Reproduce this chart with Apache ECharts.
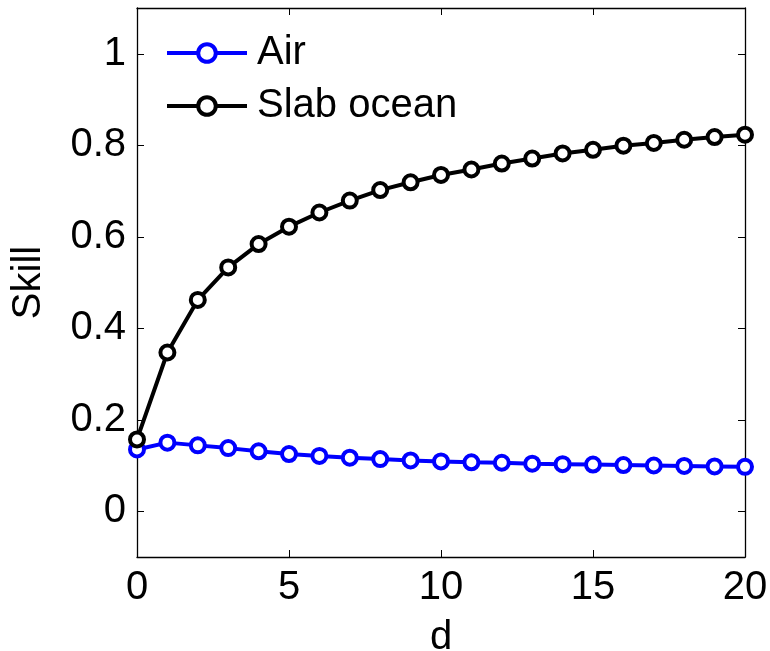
<!DOCTYPE html>
<html><head><meta charset="utf-8">
<script src="https://cdn.jsdelivr.net/npm/echarts@6/dist/echarts.min.js"></script>
<style>html,body{margin:0;padding:0;background:#fff}#c{width:770px;height:651px}</style>
</head><body><div id="c"></div>
<script>
const days = [0,1,2,3,4,5,6,7,8,9,10,11,12,13,14,15,16,17,18,19,20];
const airSkill = [0.135,0.150,0.144,0.138,0.131,0.125,0.121,0.117,0.114,0.111,0.109,0.107,0.106,0.104,0.103,0.102,0.101,0.100,0.099,0.098,0.097];
const slabSkill = [0.157,0.347,0.462,0.533,0.584,0.622,0.653,0.679,0.702,0.719,0.735,0.747,0.760,0.771,0.782,0.790,0.799,0.805,0.812,0.818,0.823];
const yTicks = [0,0.2,0.4,0.6,0.8,1];
const xTicks = [0,5,10,15,20];
const seriesNames = ['Air','Slab ocean'];

const font = 'Liberation Sans, Arial, sans-serif';
const FS = 40;
const chart = echarts.init(document.getElementById('c'));
const mk = (name, vals, color) => ({
  name, type:'line', data: days.map((d,i)=>[d, vals[i]]),
  symbol:'circle', symbolSize:14, showSymbol:true,
  lineStyle:{color, width:4}, itemStyle:{color:'#fff', borderColor:color, borderWidth:4},
  color, emphasis:{disabled:true}, z: name==='Air'?2:3
});
const axLine = {show:true, onZero:false, lineStyle:{color:'#000', width:1.3}};
const tick = {show:true, inside:true, length:7, lineStyle:{color:'#000', width:1}};
chart.setOption({
  animation:false,
  grid:{left:137, top:8, right:25, bottom:94, containLabel:false, outerBoundsMode:'none'},
  legend:{left:165, top:33, padding:0, orient:'vertical', itemWidth:80, itemHeight:22, itemGap:13,
    lineStyle:{width:4}, itemStyle:{borderWidth:4},
    textStyle:{fontFamily:font, fontSize:FS, color:'#000', padding:[0,0,0,5]},
    data:seriesNames},
  xAxis:[
    {type:'value', min:0, max:20, interval:5, position:'bottom',
      name:'d', nameLocation:'middle', nameGap:61,
      nameTextStyle:{fontFamily:font, fontSize:FS, color:'#000'},
      axisLine:axLine, axisTick:tick, splitLine:{show:false},
      axisLabel:{fontFamily:font, fontSize:FS, color:'#000', margin:11}},
    {type:'value', min:0, max:20, interval:5, position:'top',
      axisLine:axLine, axisTick:tick, splitLine:{show:false}, axisLabel:{show:false}}
  ],
  yAxis:[
    {type:'value', min:-0.1, max:1.1, position:'left',
      name:'Skill', nameLocation:'middle', nameGap:88, nameRotate:90,
      nameTextStyle:{fontFamily:font, fontSize:FS, color:'#000'},
      axisLine:axLine, splitLine:{show:false},
      axisTick:Object.assign({customValues:yTicks}, tick),
      axisLabel:{fontFamily:font, fontSize:FS, color:'#000', margin:11, customValues:yTicks,
        formatter:v=>String(Math.round(v*10)/10)}},
    {type:'value', min:-0.1, max:1.1, position:'right',
      axisLine:axLine, splitLine:{show:false},
      axisTick:Object.assign({customValues:yTicks}, tick),
      axisLabel:{show:false}}
  ],
  series:[mk(seriesNames[0], airSkill, '#0000ff'), mk(seriesNames[1], slabSkill, '#000000')]
});
</script></body></html>
